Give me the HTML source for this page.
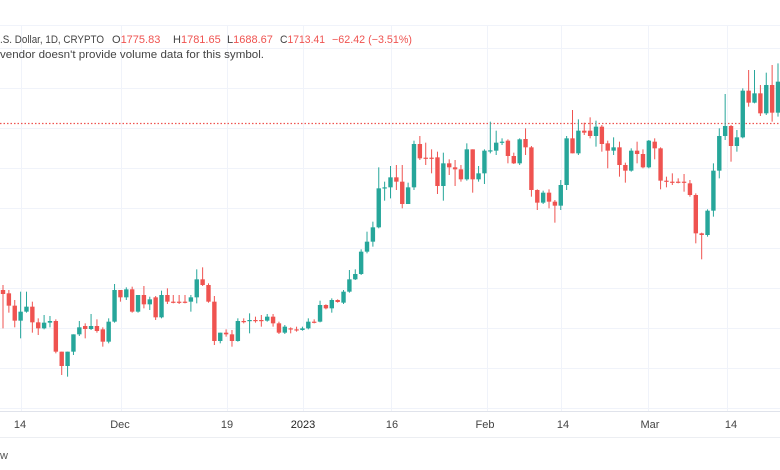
<!DOCTYPE html>
<html><head><meta charset="utf-8"><style>
html,body{margin:0;padding:0;background:#fff;width:780px;height:470px;overflow:hidden;font-family:"Liberation Sans","DejaVu Sans",sans-serif}
svg{position:absolute;left:0;top:0}
</style></head><body>
<svg id="s" width="780" height="470" xmlns="http://www.w3.org/2000/svg">
<rect x="0" y="0" width="780" height="470" fill="#fff"/>
<g id="grid" stroke="#f0f3fa" stroke-width="1"></g>
<line x1="0" y1="123.5" x2="780" y2="123.5" stroke="#ef5350" stroke-width="1.2" stroke-dasharray="1.5,2"/>
<g id="c"></g>
<line x1="0" y1="411.5" x2="780" y2="411.5" stroke="#e0e3eb"/>
<line x1="0" y1="437.5" x2="780" y2="437.5" stroke="#eceef2"/>
<g font-size="11" fill="#444" text-anchor="middle">
<text x="20" y="428">14</text><text x="120" y="428">Dec</text><text x="227" y="428">19</text>
<text x="303" y="428" fill="#222">2023</text><text x="392" y="428">16</text><text x="485" y="428">Feb</text>
<text x="563" y="428">14</text><text x="650" y="428">Mar</text><text x="731" y="428">14</text>
</g>
<text x="0" y="459" font-size="11" fill="#555">w</text>
<g font-size="11" xml:space="preserve">
<text x="0" y="43" fill="#444" textLength="104" lengthAdjust="spacingAndGlyphs">.S. Dollar, 1D, CRYPTO</text>
<text x="112" y="43" fill="#444">O<tspan fill="#ef5350">1775.83</tspan></text>
<text x="173" y="43" fill="#444">H<tspan fill="#ef5350">1781.65</tspan></text>
<text x="227" y="43" fill="#444">L<tspan fill="#ef5350">1688.67</tspan></text>
<text x="280" y="43" fill="#444" textLength="45" lengthAdjust="spacingAndGlyphs">C<tspan fill="#ef5350">1713.41</tspan></text>
<text x="332" y="43" fill="#ef5350" textLength="80" lengthAdjust="spacingAndGlyphs">−62.42 (−3.51%)</text>
<text x="0" y="58" fill="#444" textLength="264" lengthAdjust="spacingAndGlyphs">vendor doesn't provide volume data for this symbol.</text>
</g>
</svg>
<script>
var NS="http://www.w3.org/2000/svg";
var g=document.getElementById('grid');
function ln(x1,y1,x2,y2){var l=document.createElementNS(NS,'line');l.setAttribute('x1',x1);l.setAttribute('y1',y1);l.setAttribute('x2',x2);l.setAttribute('y2',y2);g.appendChild(l);}
ln(0,25.5,780,25.5);
for(var y=48;y<411;y+=40)ln(0,y+.5,780,y+.5);
[21,121,227,303,391,487,561,648,727].forEach(function(x){ln(x+.5,25,x+.5,411);});
var z3=[[150,162,135,265],[160,197,150,218],[197,242,180,262],[242,215,155,295],[215,200,155,218],[200,247,185,278],[247,265,235,285],[265,248,225,268],[248,243,228,262],[243,335,238,340],[335,378,335,405],[378,335,335,410],[335,283,330,345],[283,262,243,288],[258,267,250,295],[267,258,222,270],[258,273,238,278],[268,305,262,320],[305,245,235,310],[245,150,132,248],[150,172,150,185],[172,148,142,180],[148,215,140,218],[215,165,165,218],[165,193,138,205],[193,178,170,210],[172,232,168,240],[232,165,152,235],[165,185,145,192],[185,186,165,190],[185,186,165,192],[185,186,165,190],[185,172,165,215],[172,118,88,190],[118,135,82,138],[135,185,130,188],[185,303,168,315],[303,278,278,310],[278,283,268,290],[283,303,270,320],[303,243,235,305],[243,244,235,250],[243,240,220,280],[240,241,230,248]];
var z4=[[630,631,615,650],[632,620,612,635],[620,640,612,650],[640,668,635,672],[668,650,645,672],[655,656,652,670],[658,659,650,665],[660,655,650,662],[655,635,625,658],[635,636,628,640],[635,585,572,637],[585,595,583,598],[595,570,565,608],[570,576,568,578],[578,545,540,582],[545,508,480,548],[508,492,478,510],[492,425,418,495],[425,395,365,430],[395,352,335,410],[352,235,172,355],[235,232,215,272],[232,202,168,265],[202,215,165,240],[215,282,165,295],[282,232,218,282],[232,102,92,240],[102,145,78,150],[143,144,98,165],[143,144,118,190],[142,228,125,252],[228,160,128,272],[160,172,148,195],[172,178,150,228],[178,208,165,215],[208,118,100,212],[118,208,118,248],[208,190,168,215],[190,122,118,222],[122,121,35,130],[122,98,62,135],[98,95,85,105],[92,138,88,160],[138,160,128,162],[160,88,85,165]];
var z5=[[237,262,205,285],[262,390,258,410],[390,428,388,450],[428,398,392,432],[398,425,388,445],[425,437,420,488],[437,375,360,450],[375,235,228,390],[235,280,150,280],[280,212,178,285],[212,218,188,225],[212,228,172,235],[228,200,182,260],[200,252,195,275],[250,272,242,325],[272,262,232,285],[262,315,245,350],[315,332,308,368],[332,272,265,335],[272,282,245,310],[282,322,268,325],[322,242,240,325],[245,265,235,298],[265,362,262,388],[362,363,350,382],[365,366,340,375],[365,366,355,370],[365,366,342,395],[370,405,360,410],[405,520,400,550],[520,525,518,598],[525,452,448,530],[452,332,310,470],[332,228,205,355],[228,198,102,240],[198,258,195,305],[258,232,210,275],[232,92,85,235],[92,128,30,140],[128,100,30,130],[100,160,75,168],[160,75,38,165],[75,158,15,185],[158,65,10,170]];
var data=[];
z3.forEach(function(a){data.push(a.map(function(v){return 240+v/3;}));});
z4.forEach(function(a){data.push(a.map(function(v){return 110+v/3;}));});
z5.forEach(function(a){data.push(a.map(function(v){return 60+v/3;}));});
var c=document.getElementById('c'),h='';
data.forEach(function(d,i){
 var x=3+i*(775/132);
 var up=d[1]<d[0];var col=up?'#26a69a':'#ef5350';
 var top=Math.min(d[0],d[1]),bh=Math.max(1.2,Math.abs(d[0]-d[1]));
 var hi=Math.max(25,Math.min(d[2],top)),lo=Math.max(d[3],top+bh);
 h+='<line x1="'+x+'" y1="'+hi+'" x2="'+x+'" y2="'+lo+'" stroke="'+col+'" stroke-width="1"/>';
 h+='<rect x="'+(x-2.2)+'" y="'+top+'" width="4.4" height="'+bh+'" fill="'+col+'"/>';
});
c.innerHTML=h;
</script>
</body></html>
